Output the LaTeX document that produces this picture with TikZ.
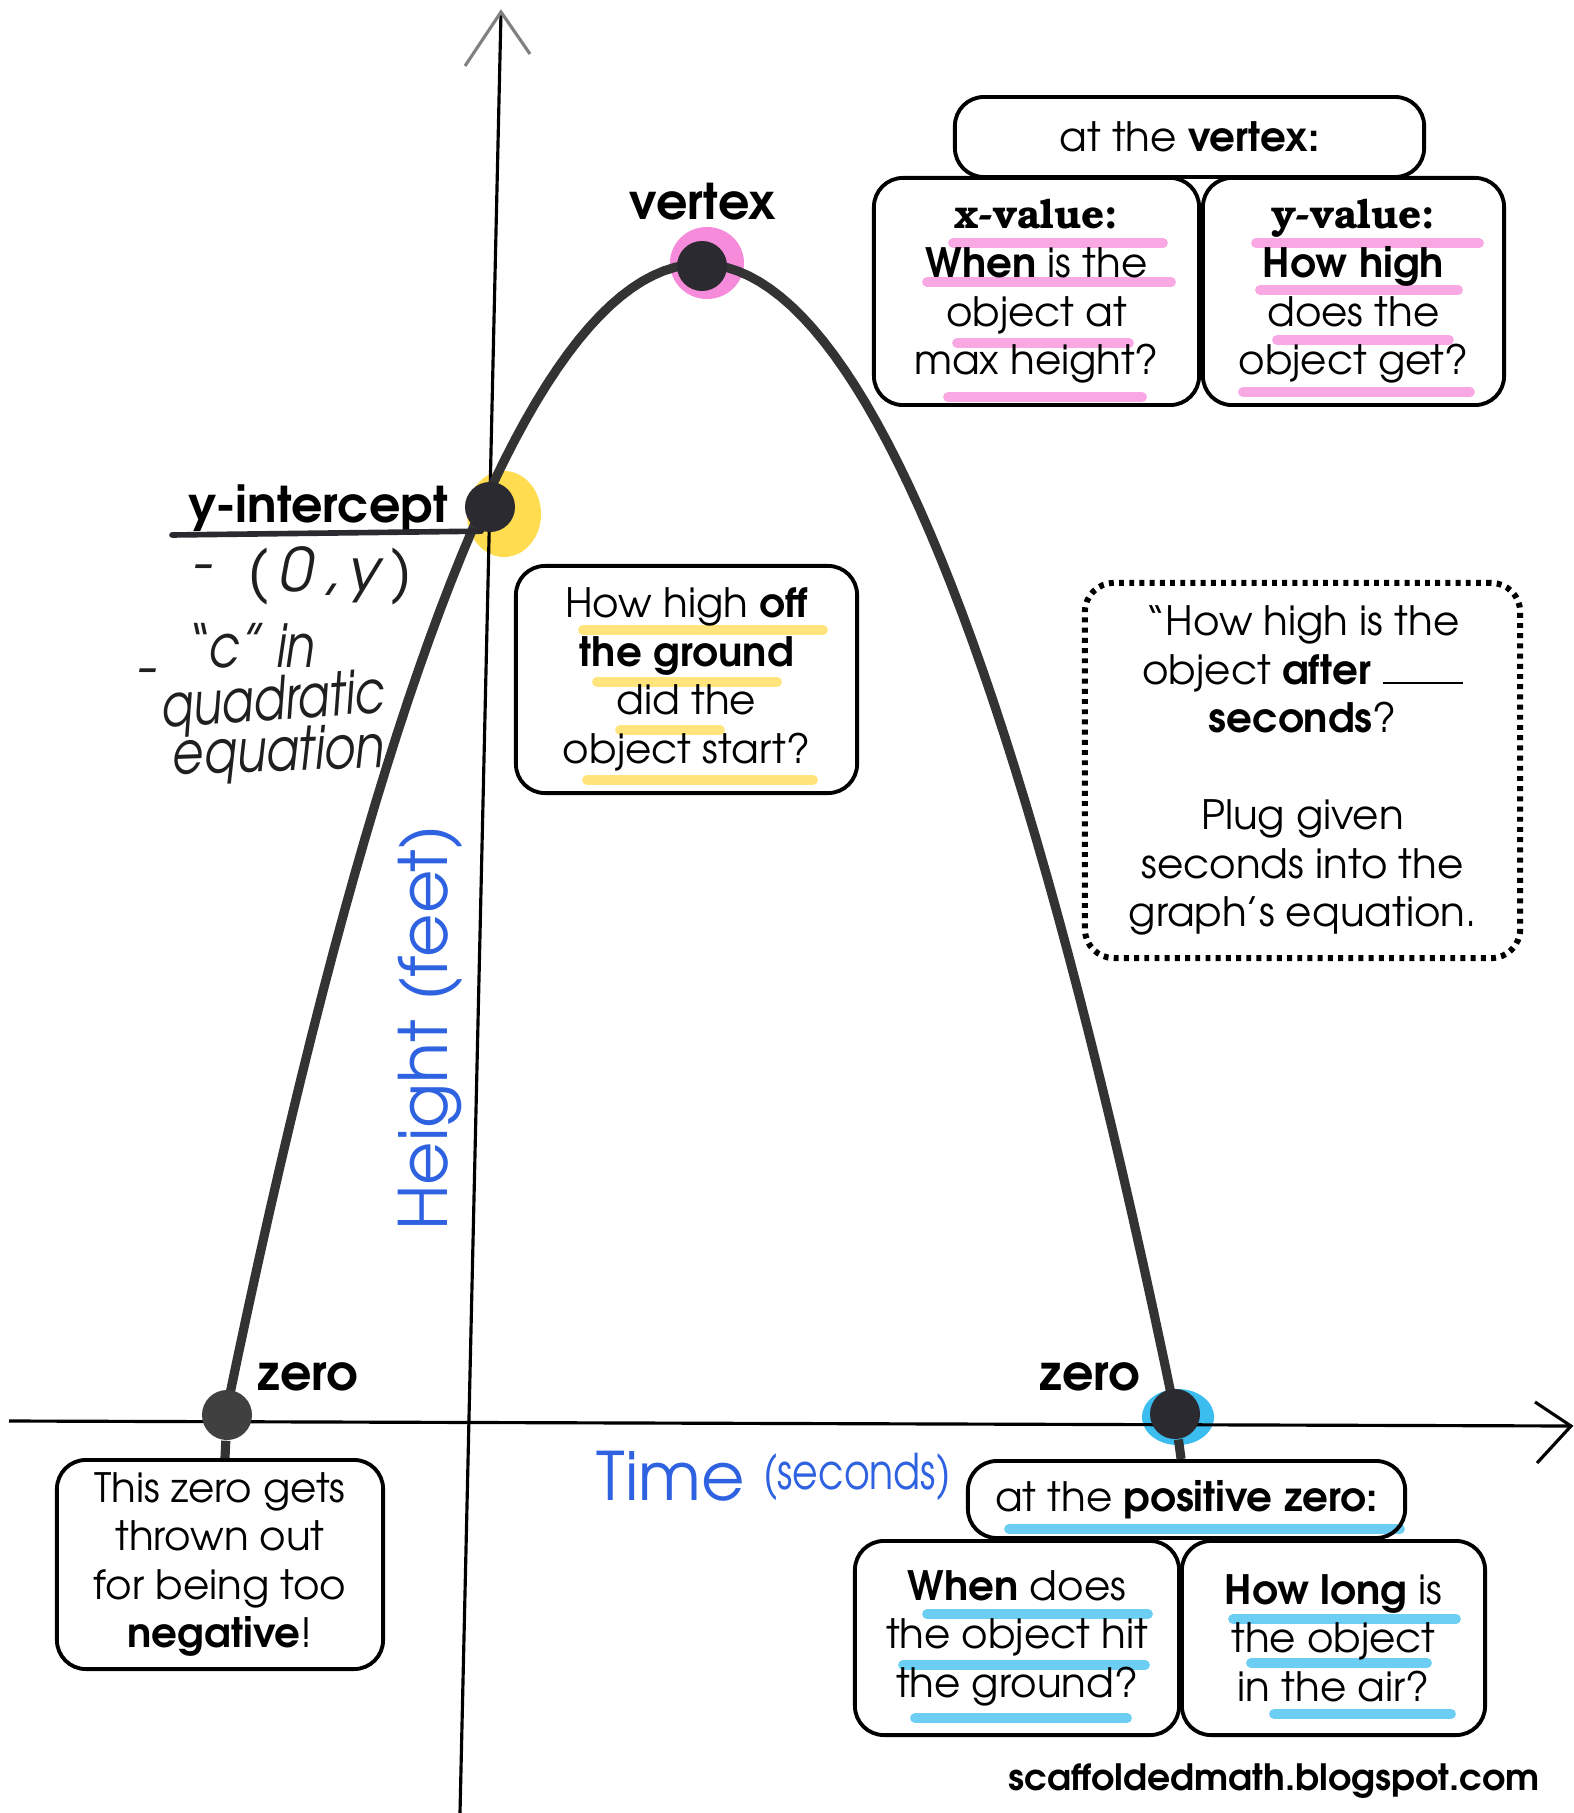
\documentclass[tikz,border=0pt]{standalone}
\usepackage{fontspec}
\setmainfont{texgyreadventor}[Extension=.otf, UprightFont=*-regular, BoldFont=*-bold, ItalicFont=*-italic, BoldItalicFont=*-bolditalic]
\newfontfamily\slabfont{texgyrebonum}[Extension=.otf, UprightFont=*-bold]
\usetikzlibrary{backgrounds,shapes.geometric}
\definecolor{curvegray}{HTML}{333333}
\definecolor{dotdark}{HTML}{2B2A30}
\definecolor{hlpink}{HTML}{F78BDB}
\definecolor{hlyellow}{HTML}{FFDC50}
\definecolor{hlcyan}{HTML}{3CBDF0}
\definecolor{penblue}{HTML}{2F62E0}
\tikzset{
  qbox/.style={draw, rounded corners=0.29cm, line width=1.1pt, align=center, inner sep=0pt, font=\fontsize{11.5}{13.8}\selectfont},
  dotbox/.style={qbox, dash pattern=on 1.4pt off 1.5pt, line width=1.7pt},
  keydot/.style={circle, fill=dotdark, inner sep=0pt, minimum size=0.5cm},
  halo/.style={ellipse, fill=#1, inner sep=0pt},
  hl/.style={line width=2.8pt, line cap=round, draw=#1, opacity=0.75},
  tagtext/.style={font=\fontsize{14}{16}\selectfont\bfseries, inner sep=0pt},
  handtext/.style={text=black!88, font=\fontsize{17}{18}\selectfont\itshape, inner sep=0pt},
  pentext/.style={text=penblue, font=\fontsize{19}{20}\selectfont, inner sep=0pt},
}
\begin{document}
\begin{tikzpicture}[x=0.01cm, y=-0.01cm]
\useasboundingbox (0,0) rectangle (1573,1813);

% halos under the key points
\node[halo=hlpink, minimum width=0.74cm, minimum height=0.72cm] (vtxhalo) at (707,263) {};
\node[halo=hlyellow, minimum width=0.74cm, minimum height=0.86cm] (yinthalo) at (504,514) {};
\node[halo=hlcyan, minimum width=0.72cm, minimum height=0.56cm] (zerohalo) at (1178,1417) {};

% axes
\coordinate (ytop) at (501,12);
\coordinate (ybot) at (460,1813);
\coordinate (xleft) at (9,1421);
\coordinate (xright) at (1571,1426);
\draw[line width=0.9pt] (ybot) -- (ytop);
\draw[line width=0.9pt, gray] (465,66) -- (ytop) -- (530,54);
\draw[line width=0.9pt] (xleft) -- (xright);
\draw[line width=0.9pt] (1535,1402) -- (xright) -- (1537,1463);

% the parabola
\draw[curvegray, line width=2.6pt] plot[domain=227:1175, samples=90] (\x, {264+1149*((\x-700.5)/474.5)^2});

\node[keydot] (vertex) at (702,266) {};
\node[keydot] (yint) at (490,507) {};
\node[keydot] (zeroR) at (1175,1414) {};
\node[keydot, fill=black!75] (zeroL) at (227,1415) {};

\node[tagtext, anchor=base] (vtxlabel) at (703,220) {vertex};
\node[tagtext, anchor=base] (zeroLlabel) at (308,1390) {zero};
\node[tagtext, anchor=base] (zeroRlabel) at (1090,1390) {zero};
\node[tagtext, anchor=base] (yintlabel) at (318,523) {y-intercept};
\coordinate (ulstart) at (172,535);
\draw[line width=1.6pt, dotdark, line cap=round] (ulstart) -- (yint.250);

% handwritten notes
\node[handtext] (dash1) at (202,574) {-};
\node[handtext, anchor=base] (note1) at (330,592) {(\,0\,,\,y\,)};
\node[handtext, anchor=base] (note2) at (250,668) {\scalebox{0.8}[1]{``c'' in}};
\node[handtext] (dash2) at (146,678) {-};
\node[handtext, anchor=base, rotate=4] (note4) at (274,720) {\scalebox{0.78}[1]{quadratic}};
\node[handtext, anchor=base, rotate=2] (note5) at (279,771) {\scalebox{0.8}[1]{equation}};
\node[pentext, rotate=90] (ylabel) at (430,1028) {Height (feet)};
\node[pentext, anchor=base west] (xlabel) at (596,1500) {Time \raisebox{3pt}{\fontsize{14}{14}\selectfont\scalebox{0.8}[1]{(seconds)}}};

% question boxes
\node[qbox, minimum width=4.69cm, minimum height=0.80cm] (vtxhead) at (1189.5,137) {at the \textbf{vertex:}};
\node[qbox, minimum width=3.25cm, minimum height=2.27cm] (xval) at (1036.5,291.5) {{\slabfont x-value:}\\\textbf{When} is the\\object at\\max height?};
\node[qbox, minimum width=3.01cm, minimum height=2.27cm] (yval) at (1353.5,291.5) {{\slabfont y-value:}\\\textbf{How high}\\does the\\object get?};
\node[qbox, minimum width=3.41cm, minimum height=2.27cm] (startbox) at (686.5,679.5) {How high \textbf{off}\\\textbf{the ground}\\did the\\object start?};
\node[dotbox, minimum width=4.35cm, minimum height=3.75cm] (afterbox) at (1302.5,770.5) {``How high is the\\object \textbf{after} \rule{0.8cm}{0.5pt}\\\textbf{seconds}?\\[13.8pt]Plug given\\seconds into the\\graph's equation.};
\node[qbox, minimum width=3.26cm, minimum height=2.09cm] (negbox) at (220,1564.5) {This zero gets\\thrown out\\for being too\\\textbf{negative}!};
\node[qbox, minimum width=4.37cm, minimum height=0.77cm] (poshead) at (1186.5,1499.5) {at the \textbf{positive zero:}};
\node[qbox, minimum width=3.24cm, minimum height=1.94cm] (whenbox) at (1017,1638) {\textbf{When} does\\the object hit\\the ground?};
\node[qbox, minimum width=3.03cm, minimum height=1.94cm] (longbox) at (1333.5,1638) {\textbf{How long} is\\the object\\in the air?};

\draw[curvegray, line width=2.6pt] (zeroL) -- (negbox);
\draw[curvegray, line width=2.6pt] (zeroR) -- (poshead);

\node[font=\fontsize{10.3}{12}\selectfont\bfseries, anchor=base] (site) at (1274,1790) {scaffoldedmath.blogspot.com};

\begin{scope}[on background layer]
\draw[hl=hlpink] (953,243) -- (1163,243);
\draw[hl=hlpink] (927,282) -- (1171,282);
\draw[hl=hlpink] (957,343) -- (1129,343);
\draw[hl=hlpink] (948,397) -- (1142,397);
\draw[hl=hlpink] (1256,243) -- (1479,243);
\draw[hl=hlpink] (1260,290) -- (1458,290);
\draw[hl=hlpink] (1277,340) -- (1449,340);
\draw[hl=hlpink] (1243,392) -- (1470,392);
\draw[hl=hlyellow] (583,630) -- (823,630);
\draw[hl=hlyellow] (597,682) -- (777,682);
\draw[hl=hlyellow] (620,730) -- (720,730);
\draw[hl=hlyellow] (587,780) -- (813,780);
\draw[hl=hlcyan] (1009,1529) -- (1400,1529);
\draw[hl=hlcyan] (927,1614) -- (1148,1614);
\draw[hl=hlcyan] (903,1665) -- (1145,1665);
\draw[hl=hlcyan] (915,1718) -- (1127,1718);
\draw[hl=hlcyan] (1233,1619) -- (1456,1619);
\draw[hl=hlcyan] (1251,1663) -- (1427,1663);
\draw[hl=hlcyan] (1274,1714) -- (1451,1714);
\end{scope}
%\draw[red] (0,0) rectangle (1573,1813);
\end{tikzpicture}
\end{document}
